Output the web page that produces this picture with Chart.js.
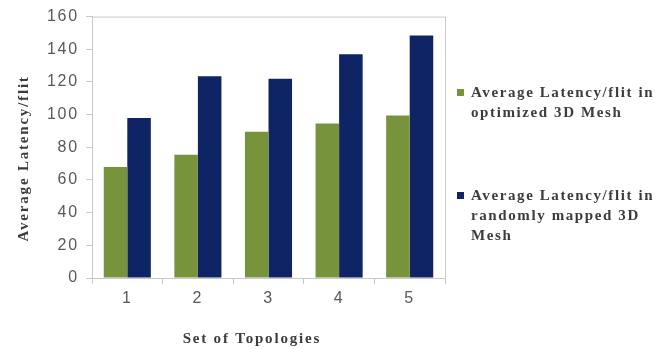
<!DOCTYPE html>
<html>
<head>
<meta charset="utf-8">
<script src="https://cdn.jsdelivr.net/npm/chart.js@4.4.1/dist/chart.umd.min.js"></script>
<style>
html,body{margin:0;padding:0;background:#fff;}
#wrap{position:relative;width:666px;height:349px;}
#legend{position:absolute;left:454px;top:0;width:212px;font-family:"Liberation Serif","Times New Roman",serif;font-weight:bold;font-size:15px;line-height:20px;letter-spacing:1.6px;color:#3c3c3c;}
.item{position:absolute;left:0;padding-left:17px;width:192px;}
.sw{position:absolute;left:3px;top:7px;width:7px;height:7px;}
</style>
</head>
<body>
<div id="wrap">
<canvas id="c" width="666" height="349"></canvas>
<div id="legend"></div>
</div>
<script>
const categories = ["1", "2", "3", "4", "5"];
const optimized = [68, 75.5, 89.5, 94.5, 99.5];
const randomMapped = [98, 123.5, 122, 137, 148.5];
const seriesLabels = ["Average Latency/flit in optimized 3D Mesh", "Average Latency/flit in randomly mapped 3D Mesh"];
const yTicks = [0, 20, 40, 60, 80, 100, 120, 140, 160];
const xTitle = "Set of Topologies";
const yTitle = "Average Latency/flit";
const colors = ["#77933C", "#0E2464"];

const spacing = {
  id: 'spacing',
  beforeLayout(chart) { chart.ctx.letterSpacing = '1.8px'; },
  beforeDraw(chart) { chart.ctx.letterSpacing = '1.8px'; }
};

const frame = {
  id: 'frame',
  afterDatasetsDraw(chart) {
    const a = chart.chartArea, ctx = chart.ctx;
    ctx.save();
    ctx.strokeStyle = '#C8C8C8';
    ctx.lineWidth = 1;
    ctx.beginPath();
    ctx.moveTo(a.left + 0.5, a.top + 0.5);
    ctx.lineTo(a.right + 0.5, a.top + 0.5);
    ctx.lineTo(a.right + 0.5, a.bottom + 0.5);
    ctx.stroke();
    ctx.restore();
  }
};

const chart = new Chart(document.getElementById('c'), {
  type: 'bar',
  data: {
    labels: categories,
    datasets: [
      {label: seriesLabels[0], data: optimized, backgroundColor: colors[0]},
      {label: seriesLabels[1], data: randomMapped, backgroundColor: colors[1]}
    ]
  },
  options: {
    responsive: false,
    animation: false,
    layout: {padding: {left: 0, right: 221, top: 16, bottom: 0}},
    plugins: {legend: {display: false}, tooltip: {enabled: false}},
    datasets: {bar: {categoryPercentage: 0.667, barPercentage: 1.0}},
    scales: {
      x: {
        grid: {display: true, drawOnChartArea: false, drawTicks: true, tickLength: 6, offset: true, color: '#C8C8C8'},
        border: {color: '#C8C8C8'},
        ticks: {color: '#595959', font: {family: 'Liberation Sans, Arial', size: 16}, padding: 5},
        title: {display: true, text: xTitle + '      ', color: '#3c3c3c', font: {family: 'Liberation Serif, Times New Roman', size: 15, weight: 'bold'}, padding: {top: 16, bottom: 1}},
        afterFit(s) { s.height = 71; }
      },
      y: {
        min: 0, max: 160,
        afterBuildTicks(s) { s.ticks = yTicks.map(v => ({value: v})); },
        grid: {display: true, drawOnChartArea: false, drawTicks: true, tickLength: 6, color: '#C8C8C8'},
        border: {color: '#C8C8C8'},
        ticks: {color: '#595959', font: {family: 'Liberation Sans, Arial', size: 16}, padding: 7},
        title: {display: true, text: yTitle + '    ', color: '#3c3c3c', font: {family: 'Liberation Serif, Times New Roman', size: 15, weight: 'bold'}, padding: {top: 15, bottom: 10}},
        afterFit(s) { s.width = 92; }
      }
    }
  },
  plugins: [spacing, frame]
});

const legend = document.getElementById('legend');
const tops = [82, 185];
chart.data.datasets.forEach((ds, i) => {
  const d = document.createElement('div');
  d.className = 'item';
  d.style.top = tops[i] + 'px';
  const sw = document.createElement('span');
  sw.className = 'sw';
  sw.style.background = ds.backgroundColor;
  d.appendChild(sw);
  d.appendChild(document.createTextNode(ds.label));
  legend.appendChild(d);
});
</script>
</body>
</html>
